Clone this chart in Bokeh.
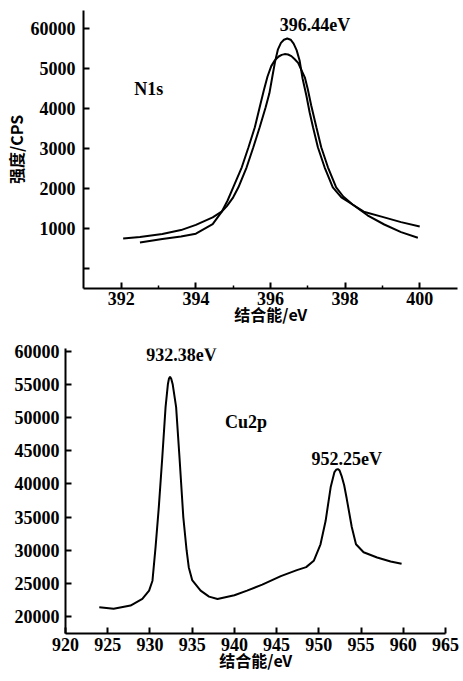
from bokeh.plotting import figure
from bokeh.layouts import column
from bokeh.models import Range1d, FixedTicker, Label
from bokeh.embed import file_html
from bokeh.resources import INLINE

# ---------------- data: N1s (two traces) ----------------
n1s_tall_e = [392.5, 393.1, 393.6, 394.0, 394.45, 394.7, 394.83, 395.0, 395.14, 395.36,
              395.54, 395.71, 395.87, 395.97, 396.05, 396.12, 396.2, 396.28, 396.36, 396.45,
              396.54, 396.62, 396.7, 396.78, 396.86, 396.96, 397.05, 397.14, 397.27, 397.45,
              397.67, 397.9, 398.2, 398.6, 399.05, 399.5, 399.95]
n1s_tall_v = [650, 740, 800, 870, 1110, 1430, 1560, 1780, 2030, 2530,
              3030, 3530, 4030, 4380, 4800, 5160, 5480, 5640, 5720, 5750,
              5720, 5620, 5460, 5200, 4750, 4330, 3900, 3530, 3030, 2530,
              2030, 1780, 1600, 1330, 1100, 910, 770]

n1s_broad_e = [392.05, 392.5, 393.1, 393.6, 394.0, 394.45, 394.7, 394.85, 395.0, 395.23,
               395.41, 395.58, 395.71, 395.82, 395.92, 396.02, 396.12, 396.22, 396.3, 396.38,
               396.47, 396.56, 396.65, 396.74, 396.83, 396.92, 397.0, 397.09, 397.23, 397.36,
               397.54, 397.76, 397.95, 398.2, 398.5, 399.0, 399.5, 400.0]
n1s_broad_v = [750, 790, 860, 960, 1090, 1280, 1430, 1700, 2030, 2530,
               3030, 3530, 4030, 4450, 4800, 5060, 5210, 5300, 5340, 5360,
               5350, 5310, 5230, 5140, 4960, 4780, 4480, 4080, 3530, 3030,
               2530, 2030, 1800, 1600, 1420, 1290, 1160, 1050]

n1s_peak_e = 396.44
n1s_x_ticks = [392, 394, 396, 398, 400]
n1s_x_minor = [393, 395, 397, 399]
n1s_y_ticks = [0, 1000, 2000, 3000, 4000, 5000, 6000]
n1s_y_labels = ["", "1000", "2000", "3000", "4000", "5000", "60000"]

# ---------------- data: Cu2p ----------------
cu_e = [924.0, 925.7, 927.7, 929.1, 929.9, 930.3, 930.66, 931.05, 931.46, 931.85,
        932.13, 932.25, 932.38, 932.52, 932.7, 933.1, 933.5, 933.95, 934.34, 934.6,
        935.0, 936.0, 937.0, 938.0, 940.0, 941.5, 943.3, 945.5, 947.4, 948.5,
        949.4, 950.2, 950.8, 951.4, 951.85, 952.05, 952.25, 952.45, 952.7, 953.0,
        953.3, 953.9, 954.4, 955.3, 956.9, 958.5, 959.8]
cu_v = [21400, 21150, 21650, 22650, 23900, 25400, 30400, 36500, 44000, 51600,
        55100, 55900, 56200, 55900, 55000, 51600, 44000, 35000, 30000, 27400,
        25500, 23900, 23000, 22650, 23200, 23900, 24800, 26100, 27000, 27450,
        28400, 30900, 34400, 39500, 41800, 42150, 42250, 42050, 41200, 39800,
        37800, 33500, 30900, 29700, 28900, 28300, 27950]
cu_peaks_e = [932.38, 952.25]
cu_x_ticks = [920, 925, 930, 935, 940, 945, 950, 955, 960, 965]
cu_y_ticks = [20000, 25000, 30000, 35000, 40000, 45000, 50000, 55000, 60000]

SERIF = "Liberation Serif"
CJK = "Noto Sans CJK SC"


def style(p):
    p.outline_line_color = None
    p.xgrid.grid_line_color = None
    p.ygrid.grid_line_color = None
    p.background_fill_color = "white"
    p.border_fill_color = "white"
    try:
        p.frame_align = False
    except Exception:
        pass
    for ax in (p.xaxis[0], p.yaxis[0]):
        ax.axis_line_width = 2
        ax.axis_line_color = "black"
        ax.major_tick_in = 6
        ax.major_tick_out = 0
        ax.minor_tick_in = 3
        ax.minor_tick_out = 0
        ax.major_tick_line_width = 2
        ax.minor_tick_line_width = 1.5
        ax.major_tick_line_color = "black"
        ax.major_label_text_font = SERIF
        ax.major_label_text_font_style = "bold"
        ax.major_label_text_font_size = "18px"
        ax.major_label_text_color = "black"
        ax.axis_label_text_font = CJK
        ax.axis_label_text_font_style = "bold"
        ax.axis_label_text_font_size = "16px"
        ax.axis_label_text_color = "black"


def note(p, x, y, text, align="center"):
    p.add_layout(Label(x=x, y=y, text=text, text_font=SERIF,
                       text_font_style="bold", text_font_size="18px", text_align=align,
                       text_baseline="middle", text_color="black"))


# ---------------- top figure ----------------
p1 = figure(width=463, height=340, output_backend="svg", toolbar_location=None,
            x_range=Range1d(390.987, 401.013), y_range=Range1d(-500, 6450),
            min_border_left=81, min_border_right=6, min_border_top=10, min_border_bottom=52)
style(p1)
p1.xaxis[0].ticker = FixedTicker(ticks=n1s_x_ticks, minor_ticks=n1s_x_minor)
p1.yaxis[0].ticker = FixedTicker(ticks=n1s_y_ticks, minor_ticks=[])
p1.yaxis[0].major_label_overrides = {t: s for t, s in zip(n1s_y_ticks, n1s_y_labels)}
p1.xaxis[0].major_label_standoff = 3
p1.yaxis[0].major_label_standoff = 8
p1.xaxis[0].axis_label = "结合能/eV"
p1.xaxis[0].axis_label_standoff = -6
p1.yaxis[0].axis_label = "强度/CPS"
p1.yaxis[0].axis_label_standoff = 0
p1.line(n1s_broad_e, n1s_broad_v, line_color="black", line_width=2)
p1.line(n1s_tall_e, n1s_tall_v, line_color="black", line_width=2)
note(p1, n1s_peak_e + 0.75, 6100, "396.44eV")
note(p1, 392.35, 4500, "N1s", align="left")

# ---------------- bottom figure ----------------
p2 = figure(width=463, height=341, output_backend="svg", toolbar_location=None,
            x_range=Range1d(920, 965), y_range=Range1d(17430, 60450),
            min_border_left=65, min_border_right=18, min_border_top=8, min_border_bottom=48)
style(p2)
p2.xaxis[0].ticker = FixedTicker(ticks=cu_x_ticks, minor_ticks=[])
p2.yaxis[0].ticker = FixedTicker(ticks=cu_y_ticks, minor_ticks=[])
p2.xaxis[0].major_label_overrides = {t: str(t) for t in cu_x_ticks}
p2.yaxis[0].major_label_overrides = {t: str(t) for t in cu_y_ticks}
p2.xaxis[0].major_label_standoff = 4
p2.yaxis[0].major_label_standoff = 6
p2.xaxis[0].axis_label = "结合能/eV"
p2.xaxis[0].axis_label_standoff = -6
p2.line(cu_e, cu_v, line_color="black", line_width=2)
note(p2, cu_peaks_e[0] + 1.35, 59400, "932.38eV")
note(p2, cu_peaks_e[1] + 1.05, 43700, "952.25eV")
note(p2, 938.9, 49300, "Cu2p", align="left")

layout = column(p1, p2)
open("out.html", "w").write(file_html(layout, INLINE))
